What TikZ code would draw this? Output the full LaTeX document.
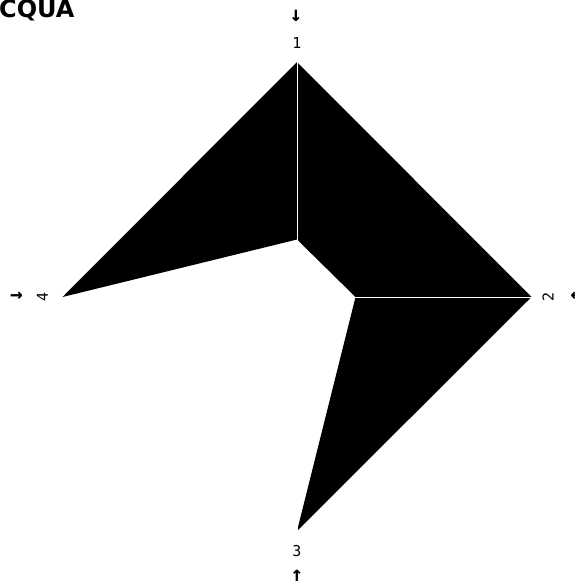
\documentclass[tikz,border=0pt]{standalone}
\usepackage{fontspec}
\setmainfont{DejaVu Sans}
\setmonofont{DejaVu Sans Mono}
\usetikzlibrary{arrows.meta,positioning}
\tikzset{
  axislabel/.style={inner sep=0pt,font=\ttfamily\fontsize{15}{15}\selectfont},
  axisarrow/.style={inner sep=0pt,font=\ttfamily\bfseries\fontsize{21}{21}\selectfont},
  axisline/.style={white,line width=0.7pt},
}

\begin{document}
\begin{tikzpicture}[x=1pt,y=-1pt,>=Stealth]
		\useasboundingbox (0,0) rectangle (574,584);
		\coordinate (O) at (297,297);
		\coordinate (P1) at (297,62);
		\coordinate (P2) at (531.5,297);
		\coordinate (P3) at (297,531);
		\coordinate (P4) at (62.5,297);
		\coordinate (Q2) at (355.5,297);
		\coordinate (Q1) at (297,239.5);
		\fill[black] (P1)--(P2)--(P3)--(Q2)--(Q1)--(P4)--cycle;
		\draw[axisline] (O)--(P1);
		\draw[axisline] (O)--(P2);
		\draw[axisline] (O)--(P3);
		\draw[axisline] (O)--(P4);
		% labels at the tips
		\node[axislabel] (lab1) at (297,43.5) {1};
		\node[axislabel,rotate=90] (lab2) at (548,297) {2};
		\node[axislabel] (lab3) at (297,551) {3};
		\node[axislabel,rotate=90] (lab4) at (42.5,297) {4};
		\node[axisarrow] (arr1) at (296,16) {↓};
		\node[axisarrow] (arr2) at (577,297) {←};
		\node[axisarrow] (arr3) at (297,576) {↑};
		\node[axisarrow] (arr4) at (16.5,297) {→};
		\node[anchor=base west,inner sep=0pt,font=\bfseries\fontsize{24}{24}\selectfont] (title) at (-1,17.5) {CQUA};
\end{tikzpicture}
\end{document}
